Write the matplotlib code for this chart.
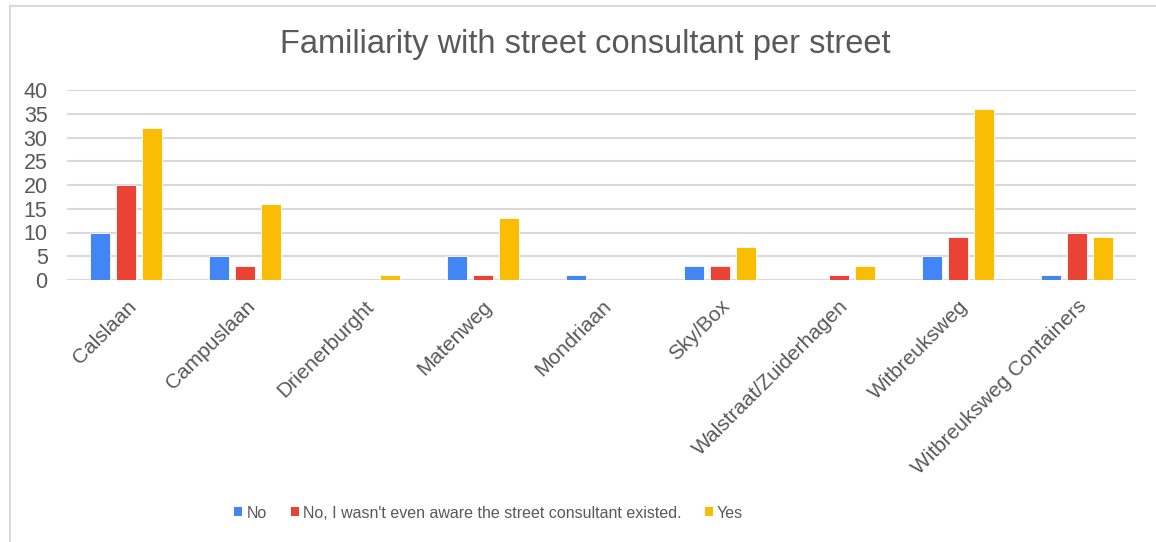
import matplotlib
matplotlib.use("Agg")
import matplotlib.pyplot as plt
import numpy as np
from matplotlib.lines import Line2D
from matplotlib.patches import Patch

plt.rcParams['font.family'] = ['Liberation Sans', 'DejaVu Sans']

streets = ["Calslaan", "Campuslaan", "Drienerburght", "Matenweg", "Mondriaan",
           "Sky/Box", "Walstraat/Zuiderhagen", "Witbreuksweg", "Witbreuksweg Containers"]
series_names = ["No", "No, I wasn't even aware the street consultant existed.", "Yes"]
no_vals = [10, 5, 0, 5, 1, 3, 0, 5, 1]
unaware_vals = [20, 3, 0, 1, 0, 3, 1, 9, 10]
yes_vals = [32, 16, 1, 13, 0, 7, 3, 36, 9]
colors = ["#4285F4", "#EA4335", "#FBBC04"]
y_ticks = [0, 5, 10, 15, 20, 25, 30, 35, 40]

text_col = "#595959"
grid_col = "#d9d9d9"

W, H = 1156, 542
fig = plt.figure(figsize=(W / 100, H / 100), dpi=100)
ax = fig.add_axes([67 / W, 1 - 280 / H, (1136 - 67) / W, (280 - 90) / H])

x = np.arange(len(streets))
step = 0.2185
width = 0.168
for i, (vals, col) in enumerate(zip([no_vals, unaware_vals, yes_vals], colors)):
    ax.bar(x + (i - 1) * step, vals, width=width, color=col,
           edgecolor="white", linewidth=0.6, zorder=3)

ax.set_xlim(-0.5, len(streets) - 0.5)
ax.set_ylim(0, 40)
ax.set_yticks(y_ticks)
ax.set_yticklabels([str(t) for t in y_ticks], fontsize=15.5, color=text_col)
ax.tick_params(axis='y', length=0, pad=14)
ax.set_xticks(x)
ax.set_xticklabels(streets, rotation=45, ha='right', rotation_mode='anchor',
                   fontsize=15, color=text_col)
ax.tick_params(axis='x', length=0, pad=12)
ax.yaxis.grid(True, color=grid_col, linewidth=1.5, zorder=0)
ax.set_axisbelow(True)
for s in ax.spines.values():
    s.set_visible(False)

fig.text(585 / W, 1 - 45 / H, "Familiarity with street consultant per street",
         ha='center', va='center', fontsize=23.5, color=text_col)

# frame lines along the top and left edges
fig.add_artist(Line2D([9.5 / W, 1.0], [1 - 5.5 / H, 1 - 5.5 / H],
                      transform=fig.transFigure, color=grid_col, linewidth=1.5))
fig.add_artist(Line2D([9.5 / W, 9.5 / W], [0, 1 - 5.5 / H],
                      transform=fig.transFigure, color=grid_col, linewidth=1.5))

handles = [Patch(facecolor=c, edgecolor='none') for c in colors]
leg = fig.legend(handles, series_names, loc='center left',
                 bbox_to_anchor=(220 / W, 1 - 513 / H), ncol=3, frameon=False,
                 fontsize=11.5, handlelength=0.5, handleheight=0.5,
                 handletextpad=0.25, columnspacing=1.5, labelcolor=text_col)

fig.savefig("out.png", dpi=100, facecolor="white")
